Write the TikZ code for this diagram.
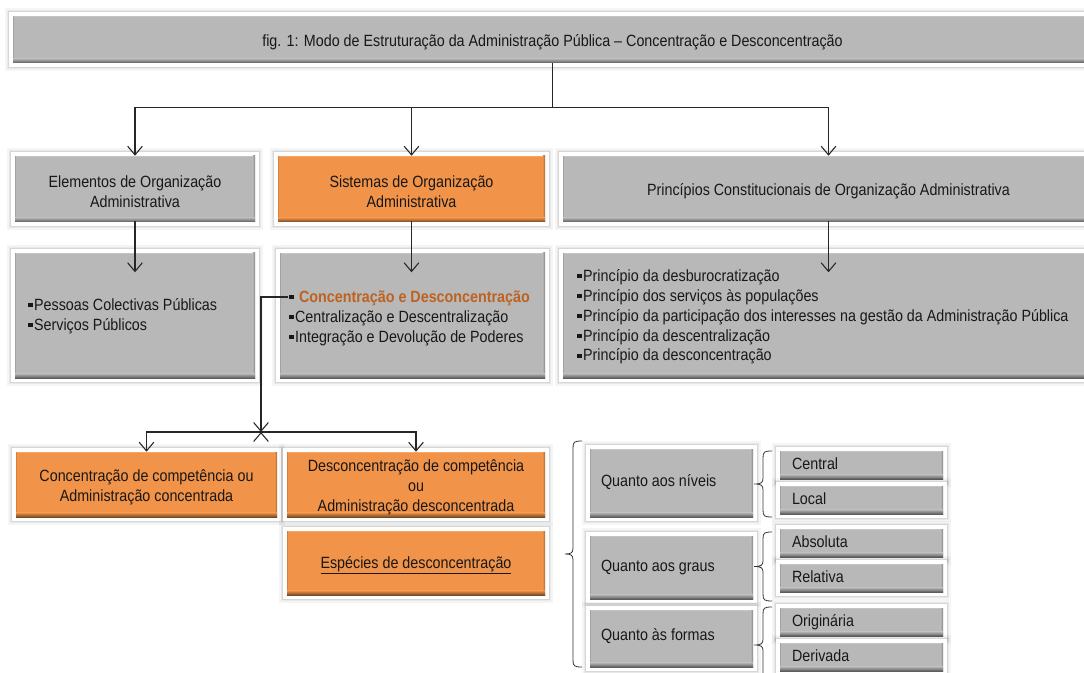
\documentclass[tikz,border=0pt]{standalone}
\usepackage{fontspec}
\setmainfont{Liberation Sans}[FakeStretch=0.88]
\usetikzlibrary{arrows.meta,calc}

\definecolor{tilegray}{RGB}{184,184,184}
\definecolor{tileorange}{RGB}{241,147,72}
\definecolor{inktext}{RGB}{24,24,24}
\definecolor{accent}{RGB}{190,98,32}

% small square bullet
\newcommand\sqb{\rule[2.3pt]{3.2pt}{3.2pt}\hspace{1.2pt}}
% framed tile: style, name, x1, y1, x2, y2 (inner coloured area, px), centred text
\newcommand\tilenode[7]{%
  \pgfmathsetmacro\tilew{(#5-#3)*0.75+6}%
  \pgfmathsetmacro\tileh{(#6-#4)*0.75+6}%
  \node[#1, minimum width=\tilew pt, minimum height=\tileh pt] (#2)
    at ({(#3+#5)/2},{(#4+#6)/2}) {};%
  \node[tiletext] (#2-t) at ($(#2.center)+(0,2.5)$) {#7};%
}
% curly side brace: tip x, spine x, end x, top y, bottom y
\newcommand\drawbrace[5]{%
  \pgfmathsetmacro\bmid{(#4+#5)/2}%
  \draw[bracestyle] (#3,#4) .. controls ({#2+1},#4) and (#2,{#4+1}) .. (#2,{#4+7})
     -- (#2,{\bmid-6}) .. controls (#2,{\bmid-1}) and ({#2-2},\bmid) .. (#1,\bmid)
     .. controls ({#2-2},\bmid) and (#2,{\bmid+1}) .. (#2,{\bmid+6})
     -- (#2,{#5-7}) .. controls (#2,{#5-1}) and ({#2+1},#5) .. (#3,#5);%
}

\begin{document}
\begin{tikzpicture}[x=0.75pt,y=-0.75pt,
  font=\fontsize{12.2}{14.9}\selectfont, text=inktext,
  >={Straight Barb[length=6.5pt,width=11pt]},
  tilefill/.store in=\tilefill, tilefill=tilegray,
  tile/.style={rectangle, fill=white, draw=none, inner sep=0pt,
    preaction={draw=black, opacity=0.04, line width=6pt},
    preaction={draw=black, opacity=0.05, line width=3.6pt},
    preaction={draw=black, opacity=0.07, line width=1.6pt},
    path picture={
      \coordinate (tSW) at ([shift={(3pt,3pt)}]path picture bounding box.south west);
      \coordinate (tNE) at ([shift={(-3pt,-3pt)}]path picture bounding box.north east);
      \fill[\tilefill] (tSW) rectangle (tNE);
      \fill[\tilefill!82!white] ($(tSW|-tNE)$) rectangle ($(tNE)+(0pt,-0.8pt)$);
      \fill[\tilefill!88!black] (tSW) rectangle ($(tSW|-tNE)+(0.8pt,0pt)$);
      \shade[left color=\tilefill, right color=\tilefill!70!black]
        ($(tNE|-tSW)+(-1.8pt,0pt)$) rectangle (tNE);
      \shade[top color=\tilefill, bottom color=\tilefill!50!black]
        (tSW) rectangle ($(tNE|-tSW)+(0pt,3.4pt)$);
    }},
  graytile/.style={tile, tilefill=tilegray},
  orangetile/.style={tile, tilefill=tileorange},
  tiletext/.style={inner sep=0pt, align=center},
  lbl/.style={inner sep=0pt, align=left},
  conn/.style={draw=black!85, line width=0.8pt},
  bracestyle/.style={draw=black!80, line width=0.6pt}]

\clip (0,0) rectangle (1084,673);
\useasboundingbox (0,0) rectangle (1084,673);
\fill[white] (0,0) rectangle (1084,673);

% heading
\tilenode{graytile}{title}{13}{16}{1092}{63}
  {fig. 1: Modo de Estruturação da Administração Pública – Concentração e Desconcentração}

% second row
\tilenode{graytile}{elem}{15}{156}{255}{222}{Elementos de Organização\\Administrativa}
\tilenode{orangetile}{sist}{278}{156}{545}{222}{Sistemas de Organização\\Administrativa}
\tilenode{graytile}{princ}{563}{156}{1094}{222}{Princípios Constitucionais de Organização Administrativa}

% third row
\tilenode{graytile}{elemL}{15}{253}{255}{378}{}
\tilenode{graytile}{sistL}{280}{253}{545}{378}{}
\tilenode{graytile}{princL}{563}{253}{1094}{378}{}

\node[lbl, anchor=west] (elemL-list) at (28,316)
  {\sqb Pessoas Colectivas Públicas\\ \sqb Serviços Públicos};
\node[lbl, anchor=west] (sistL-list) at (289,318)
  {\sqb\ {\bfseries\color{accent}Concentração e Desconcentração}\\
   \sqb Centralização e Descentralização\\
   \sqb Integração e Devolução de Poderes};
\node[lbl, anchor=west] (princL-list) at (577,317)
  {\sqb Princípio da desburocratização\\
   \sqb Princípio dos serviços às populações\\
   \sqb Princípio da participação dos interesses na gestão da Administração Pública\\
   \sqb Princípio da descentralização\\
   \sqb Princípio da desconcentração};

% fourth row
\tilenode{orangetile}{conc}{16}{452}{277}{517}{Concentração de competência ou\\Administração concentrada}
\tilenode{orangetile}{desc}{287}{452}{545}{517}{Desconcentração de competência\\ou\\Administração desconcentrada}
\tilenode{orangetile}{espe}{287}{531}{545}{595}{\underline{Espécies de desconcentração}}

% kinds of deconcentration
\tilenode{graytile}{qniv}{590}{449}{753}{517}{}
\tilenode{graytile}{qgra}{590}{536}{753}{599}{}
\tilenode{graytile}{qfor}{590}{610}{753}{667}{}
\node[lbl, anchor=mid west] (qniv-l) at ($(qniv.west)+(15,0)$) {Quanto aos níveis};
\node[lbl, anchor=mid west] (qgra-l) at ($(qgra.west)+(15,0)$) {Quanto aos graus};
\node[lbl, anchor=mid west] (qfor-l) at ($(qfor.west)+(15,-2)$) {Quanto às formas};

\tilenode{graytile}{cen}{780}{451}{943}{479}{}
\tilenode{graytile}{loc}{780}{486}{943}{514}{}
\tilenode{graytile}{abs}{780}{529}{943}{557}{}
\tilenode{graytile}{rel}{780}{564}{943}{592}{}
\tilenode{graytile}{ori}{780}{608}{943}{636}{}
\tilenode{graytile}{der}{780}{643}{943}{671}{}
\foreach \n/\t in {cen/Central, loc/Local, abs/Absoluta, rel/Relativa, ori/Originária, der/Derivada}
  \node[lbl, anchor=mid west] (\n-l) at ($(\n.west)+(16,1)$) {\t};

% braces
\drawbrace{565}{573}{582}{441}{667}
\drawbrace{754}{763}{772}{451}{517}
\drawbrace{754}{763}{772}{532}{601}
\drawbrace{754}{763}{772}{607}{683}

% connectors from the heading
\draw[conn] ($(title.south)+(0,-4)$) -- ++(0,44) coordinate (hub);
\draw[conn,->] (hub) -| ($(elem.north)+(0,4)$);
\draw[conn,->] (hub) -| ($(sist.north)+(0,4)$);
\draw[conn,->] (hub) -| ($(princ.north)+(0,4)$);

% second row to third row
\draw[conn,->] ($(elem.south)+(0,-5)$) -- ++(0,51);
\draw[conn,->] ($(sist.south)+(0,-5)$) -- ++(0,51);
\draw[conn,->] ($(princ.south)+(0,-5)$) -- ++(0,51);

% from the highlighted item to the two forms
\coordinate (cdfrom) at (288,297);
\coordinate (jn) at (261,432);
\draw[conn,->] (cdfrom) -| (jn);
\draw[conn,->] ($(jn)+(0,1)$) -- (jn);
\draw[conn,->] (jn) -| ($(conc.north)+(0,4)$);
\draw[conn,->] (jn) -| ($(desc.north)+(0,4)$);

\end{tikzpicture}
\end{document}
